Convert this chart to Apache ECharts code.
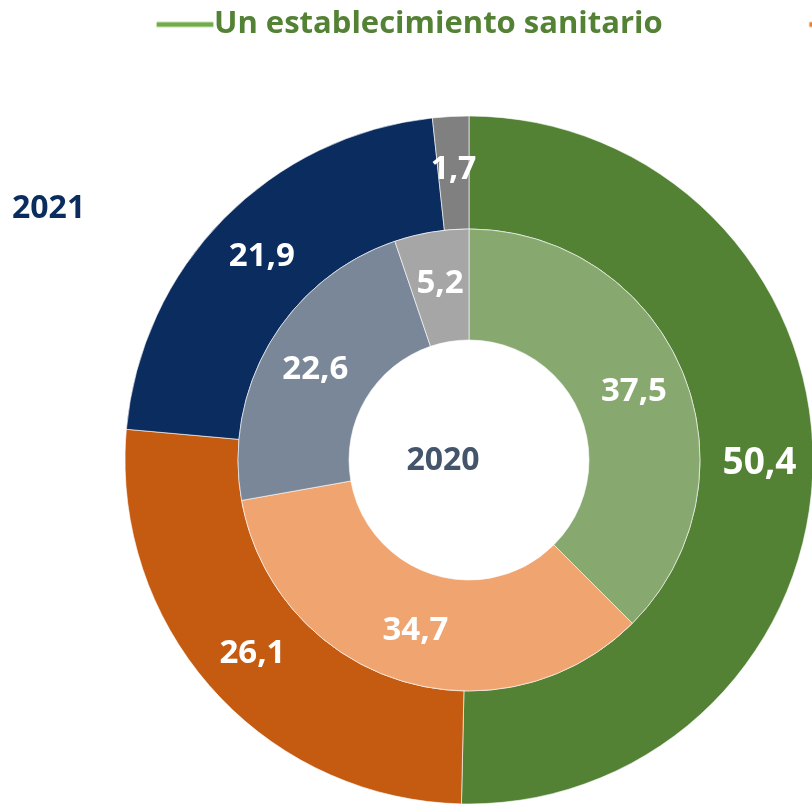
<!DOCTYPE html>
<html>
<head>
<meta charset="utf-8">
<script src="https://cdn.jsdelivr.net/npm/echarts@6/dist/echarts.min.js"></script>
<style>
  html, body { margin: 0; padding: 0; background: #ffffff; }
  #chart { width: 812px; height: 805px; }
</style>
</head>
<body>
<div id="chart"></div>
<script>
// categorias (comunes a los dos anillos)
var categorias = ['Un establecimiento sanitario', 'Dos establecimientos sanitarios', 'Tres o más establecimientos', 'No consta']
// anillo exterior = 2021, anillo interior = 2020
var valores2021 = [50.4, 26.1, 21.9, 1.7]
var valores2020 = [37.5, 34.7, 22.6, 5.2]

var coloresFuertes = ['#548235', '#C55A11', '#0B2C5E', '#808080']
var coloresSuaves = ['#87A86F', '#F0A470', '#7A8798', '#A6A6A6']
var coloresLeyenda = ['#70AD47', '#ED7D31']
var tamLabel2021 = [37, 33, 33, 32]

function fmt (v) {
  return v.toFixed(1).replace('.', ',')
}

function datos (valores, colores, tams) {
  return valores.map(function (v, i) {
    return {
      name: categorias[i],
      value: v,
      itemStyle: { color: colores[i] },
      label: { fontSize: tams ? tams[i] : 33 }
    }
  })
}

var chart = echarts.init(document.getElementById('chart'))
chart.setOption({
  animation: false,
  legend: {
    data: coloresLeyenda.map(function (c, i) {
      return { name: categorias[i], itemStyle: { color: c } }
    }),
    left: 155,
    top: 9,
    padding: 0,
    width: 3000,
    icon: 'roundRect',
    itemWidth: 58,
    itemHeight: 6,
    itemGap: 145,
    selectedMode: false,
    textStyle: {
      fontFamily: 'Open Sans',
      fontWeight: 'bold',
      fontSize: 31,
      color: '#548235',
      padding: [0, 0, 0, -5]
    }
  },
  graphic: [
    {
      type: 'text',
      style: {
        text: '2021',
        x: 12,
        y: 209,
        verticalAlign: 'middle',
        fill: '#0B2C5E',
        font: 'bold 32px "Open Sans"'
      }
    },
    {
      type: 'text',
      style: {
        text: '2020',
        x: 443,
        y: 461,
        align: 'center',
        verticalAlign: 'middle',
        fill: '#44546A',
        font: 'bold 32px "Open Sans"'
      }
    }
  ],
  series: [
    {
      name: '2021',
      type: 'pie',
      center: [469, 460],
      radius: [231, 344],
      startAngle: 90,
      clockwise: true,
      avoidLabelOverlap: false,
      itemStyle: { borderColor: 'rgba(255,255,255,0.6)', borderWidth: 1 },
      label: {
        position: 'inside',
        color: '#ffffff',
        fontFamily: 'Open Sans',
        fontWeight: 'bold',
        formatter: function (p) { return fmt(p.value) }
      },
      labelLine: { show: false },
      data: datos(valores2021, coloresFuertes, tamLabel2021)
    },
    {
      name: '2020',
      type: 'pie',
      center: [469, 460],
      radius: [120, 231],
      startAngle: 90,
      clockwise: true,
      avoidLabelOverlap: false,
      itemStyle: { borderColor: 'rgba(255,255,255,0.6)', borderWidth: 1 },
      label: {
        position: 'inside',
        color: '#ffffff',
        fontFamily: 'Open Sans',
        fontWeight: 'bold',
        formatter: function (p) { return fmt(p.value) }
      },
      labelLine: { show: false },
      data: datos(valores2020, coloresSuaves)
    }
  ]
})
</script>
</body>
</html>
